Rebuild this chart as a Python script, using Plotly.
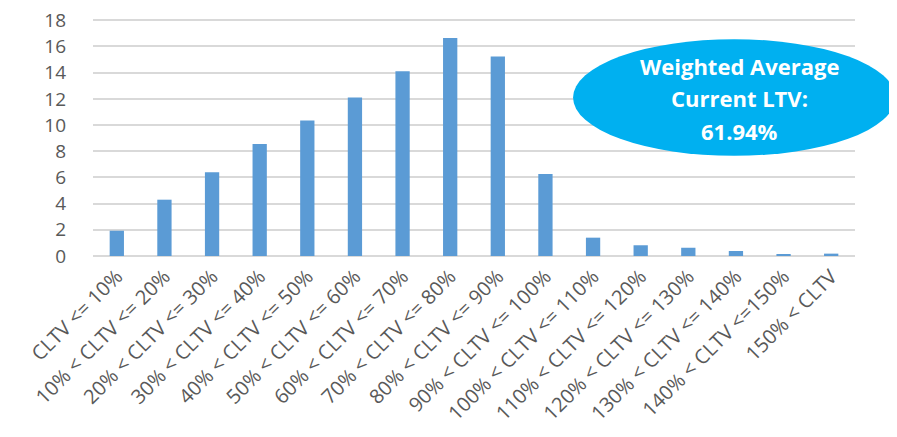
import plotly.graph_objects as go

# CLTV buckets and share of loans (%)
categories = [
    "CLTV <= 10%", "10% < CLTV <= 20%", "20% < CLTV <= 30%", "30% < CLTV <= 40%",
    "40% < CLTV <= 50%", "50% < CLTV <= 60%", "60% < CLTV <= 70%", "70% < CLTV <= 80%",
    "80% < CLTV <= 90%", "90% < CLTV <= 100%", "100% < CLTV <= 110%", "110% < CLTV <= 120%",
    "120% < CLTV <= 130%", "130% < CLTV <= 140%", "140% < CLTV <=150%", "150% < CLTV",
]
values = [1.93, 4.3, 6.4, 8.55, 10.35, 12.1, 14.1, 16.65,
          15.24, 6.26, 1.4, 0.82, 0.63, 0.38, 0.15, 0.18]
y_ticks = [0, 2, 4, 6, 8, 10, 12, 14, 16, 18]
callout_lines = ["Weighted Average", "Current LTV:", "61.94%"]

fig = go.Figure()

fig.add_trace(go.Bar(
    x=categories,
    y=values,
    marker=dict(color='#5b9bd5', line=dict(width=0)),
    width=0.3,
    hovertemplate='%{x}: %{y:.2f}<extra></extra>'
))

# 右上角的橢圓標註
fig.add_shape(
    type='circle', xref='paper', yref='paper',
    x0=0.63, x1=1.053, y0=0.419, y1=0.907,
    fillcolor='#00b0f0', line=dict(width=0), layer='above'
)
for i, line in enumerate(callout_lines):
    fig.add_annotation(
        x=0.849, y=0.797 - i * 0.138, xref='paper', yref='paper',
        text='<b>' + line + '</b>', showarrow=False,
        font=dict(family='Open Sans', size=22, color='white'),
        xanchor='center', yanchor='middle'
    )

# 頁面 body 有 8px 預設邊距，所以這裡的邊距先扣掉
fig.update_layout(
    width=897, height=437,
    margin=dict(l=85, r=50, t=9, b=189),
    plot_bgcolor='white', paper_bgcolor='white',
    showlegend=False,
    font=dict(family='Open Sans', size=20, color='#595959'),
    xaxis=dict(
        tickangle=-45, showgrid=False, showline=False, ticks='',
        tickfont=dict(size=20, color='#595959'), automargin=False,
        ticklabelstandoff=4
    ),
    yaxis=dict(
        range=[0, 18.25], tickvals=y_ticks, showgrid=True,
        gridcolor='#d9d9d9', gridwidth=2, zeroline=True,
        zerolinecolor='#d9d9d9', zerolinewidth=2, ticks='',
        tickfont=dict(size=19, color='#595959'), ticklabelstandoff=26,
        ticklabeloverflow='allow', automargin=False
    ),
)

fig.write_html("out.html")
